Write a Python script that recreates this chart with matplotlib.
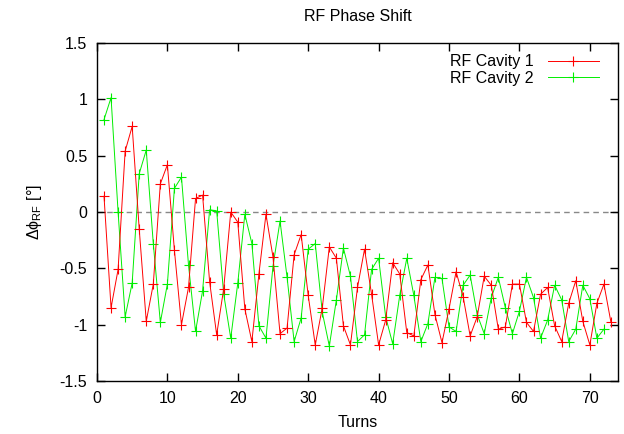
import numpy as np
import matplotlib
matplotlib.use('Agg')
import matplotlib.pyplot as plt

plt.rcParams['font.family'] = ['Liberation Sans', 'DejaVu Sans']
plt.rcParams['mathtext.fontset'] = 'custom'
plt.rcParams['mathtext.rm'] = 'Liberation Sans'
plt.rcParams['mathtext.it'] = 'Liberation Sans:italic'

# RF phase shift per turn
turns_1 = np.arange(1, 74)
cavity_1 = [0.14, -0.85, -0.51, 0.54, 0.76, -0.15, -0.97, -0.64, 0.25, 0.42,
            -0.34, -1.00, -0.67, 0.12, 0.15, -0.62, -1.09, -0.68, 0.00, -0.09,
            -0.86, -1.15, -0.55, -0.02, -0.40, -1.08, -1.03, -0.38, -0.20, -0.74,
            -1.18, -0.85, -0.31, -0.41, -1.01, -1.18, -0.67, -0.33, -0.73, -1.18,
            -0.96, -0.45, -0.55, -1.07, -1.10, -0.60, -0.47, -0.91, -1.16, -0.86,
            -0.53, -0.75, -1.10, -0.93, -0.57, -0.65, -1.04, -1.02, -0.64, -0.64,
            -0.98, -1.06, -0.73, -0.67, -1.01, -1.15, -0.81, -0.61, -0.97, -1.18,
            -0.81, -0.64, -0.98]

turns_2 = np.arange(1, 73)
cavity_2 = [0.82, 1.015, 0.00, -0.93, -0.63, 0.34, 0.55, -0.28, -0.98, -0.64,
            0.21, 0.31, -0.47, -1.06, -0.70, 0.02, 0.01, -0.73, -1.12, -0.63,
            -0.02, -0.28, -1.01, -1.12, -0.48, -0.08, -0.58, -1.15, -0.94, -0.33,
            -0.28, -0.89, -1.19, -0.78, -0.32, -0.57, -1.15, -1.09, -0.51, -0.41,
            -0.93, -1.17, -0.74, -0.41, -0.74, -1.15, -0.99, -0.58, -0.59, -1.02,
            -1.06, -0.65, -0.56, -0.91, -1.08, -0.76, -0.58, -0.85, -1.08, -0.88,
            -0.58, -0.76, -1.12, -0.96, -0.65, -0.78, -1.15, -1.04, -0.65, -0.77,
            -1.12, -1.04]

x_ticks = [0, 10, 20, 30, 40, 50, 60, 70]
y_ticks = [-1.5, -1, -0.5, 0, 0.5, 1, 1.5]
y_tick_labels = ['-1.5', '-1', '-0.5', '0', '0.5', '1', '1.5']


def main():
    fig = plt.figure(figsize=(6.24, 4.34), dpi=100)
    ax = fig.add_axes([0.1554, 0.1221, 0.835, 0.7788])

    ax.axhline(0, color='#888888', linestyle=(0, (4, 3)), linewidth=1.0, zorder=1)
    ax.plot(turns_1, cavity_1, color='#ff0000', linewidth=0.7, marker='+',
            markersize=6.5, markeredgewidth=0.8, label='RF Cavity 1', zorder=3)
    ax.plot(turns_2, cavity_2, color='#00ee00', linewidth=0.7, marker='+',
            markersize=6.5, markeredgewidth=0.8, label='RF Cavity 2', zorder=2)

    ax.set_xlim(0, 74)
    ax.set_ylim(-1.5, 1.5)
    ax.set_xticks(x_ticks)
    ax.set_yticks(y_ticks)
    ax.set_yticklabels(y_tick_labels)
    ax.tick_params(direction='in', length=6, width=1, top=True, right=True,
                   labelsize=11.5, pad=7)
    for s in ax.spines.values():
        s.set_linewidth(1.0)

    ax.set_title('RF Phase Shift', fontsize=11.5, pad=16)
    ax.set_xlabel('Turns', fontsize=11.5, labelpad=7)
    ax.set_ylabel('Δϕ$_\\mathrm{RF}$ [°]', fontsize=11.5, labelpad=11)

    ax.legend(loc='upper right', bbox_to_anchor=(0.985, 1.0), frameon=False,
              markerfirst=False, handlelength=3.2, handletextpad=0.9,
              labelspacing=0.1, fontsize=11.5, borderaxespad=0.3)

    fig.savefig('out.png', dpi=100)


if __name__ == "__main__":
    main()
